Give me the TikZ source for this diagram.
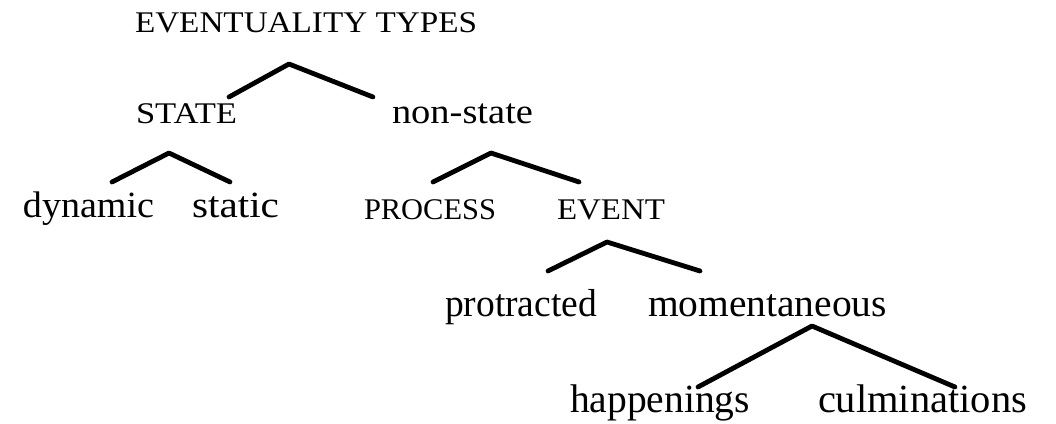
\documentclass[tikz,border=0pt]{standalone}
\usepackage{fontspec}
\usepackage{graphicx}
\setmainfont{Liberation Serif}
% stretch a label horizontally to a given width, keeping its height
\newcommand\fitw[2]{\resizebox{#1}{\height}{#2}}
\begin{document}
\begin{tikzpicture}[x=1pt,y=-1pt,
  word/.style={anchor=base west, inner sep=0pt, outer sep=0pt,
    font=\fontsize{39}{41}\selectfont},
  capword/.style={anchor=base west, inner sep=0pt, outer sep=0pt,
    font=\fontsize{30}{32}\selectfont},
  branch/.style={line width=4.8pt, line cap=round, line join=round}]
\useasboundingbox (0,0) rectangle (1056,423);

% labels
\node[capword] (root) at (135,32) {\fitw{342pt}{EVENTUALITY TYPES}};
\node[capword] (state) at (136,123) {\fitw{101pt}{STATE}};
\node[word, font=\fontsize{35}{37}\selectfont] (nonstate) at (392,123) {\fitw{141pt}{non-state}};
\node[word, font=\fontsize{37}{39}\selectfont] (dynamic) at (23,217) {\fitw{131pt}{dynamic}};
\node[word, font=\fontsize{37}{39}\selectfont] (static) at (192,217) {\fitw{87pt}{static}};
\node[capword] (process) at (364,219) {\fitw{132pt}{PROCESS}};
\node[capword] (event) at (557,219) {\fitw{108pt}{EVENT}};
\node[word] (protracted) at (445,316) {\fitw{152pt}{protracted}};
\node[word] (momentaneous) at (648,316) {\fitw{239pt}{momentaneous}};
\node[word, font=\fontsize{40}{42}\selectfont] (happenings) at (570,412) {\fitw{180pt}{happenings}};
\node[word, font=\fontsize{40}{42}\selectfont] (culminations) at (818,412) {\fitw{209pt}{culminations}};

% branch points and ends
\coordinate (root-top) at (289,64);
\coordinate (state-in) at (229,97);
\coordinate (nonstate-in) at (373,97);

\coordinate (state-top) at (169,153);
\coordinate (dynamic-in) at (112,182);
\coordinate (static-in) at (230,182);

\coordinate (nonstate-top) at (491,153);
\coordinate (process-in) at (433,182);
\coordinate (event-in) at (579,182);

\coordinate (event-top) at (607,242);
\coordinate (protracted-in) at (548,271);
\coordinate (momentaneous-in) at (700,271);

\coordinate (momentaneous-top) at (812,326);
\coordinate (happenings-in) at (698,387);
\coordinate (culminations-in) at (955,387);

% branches
\draw[branch] (state-in) -- (root-top) -- (nonstate-in);
\draw[branch] (dynamic-in) -- (state-top) -- (static-in);
\draw[branch] (process-in) -- (nonstate-top) -- (event-in);
\draw[branch] (protracted-in) -- (event-top) -- (momentaneous-in);
\draw[branch] (happenings-in) -- (momentaneous-top) -- (culminations-in);
\end{tikzpicture}
\end{document}
